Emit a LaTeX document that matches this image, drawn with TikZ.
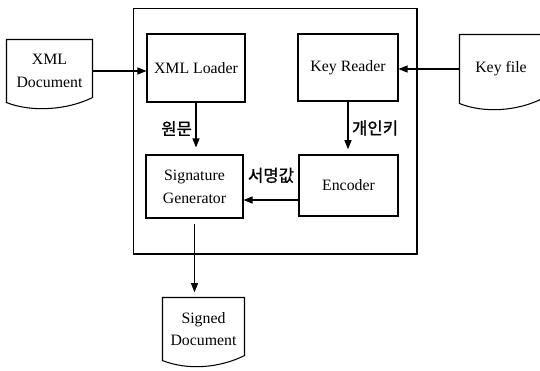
\documentclass[tikz,border=0pt]{standalone}
\usepackage{fontspec}
\setmainfont{Liberation Serif}
\newfontfamily\krfont{Noto Sans CJK KR}[FakeBold=1.2]
\usetikzlibrary{arrows.meta,calc}

\begin{document}
\begin{tikzpicture}[x=0.02cm,y=-0.02cm,font=\fontsize{9}{13}\selectfont,line width=0.6pt,
  blk/.style={draw,align=center,inner sep=2pt},
  docu/.style={align=center,inner sep=2pt,
    append after command={\pgfextra{\draw (\tikzlastnode.north west) -- (\tikzlastnode.north east)
      -- ([yshift=0.1cm]\tikzlastnode.south east)
      .. controls +(-0.5cm,-0.25cm) and +(0.5cm,-0.2cm) .. (\tikzlastnode.south west) -- cycle;}}},
  lbl/.style={font=\krfont\fontsize{9.5}{11}\selectfont,inner sep=2pt},
  ar/.style={-{Triangle[length=1.8mm,width=1.4mm]}}]
\useasboundingbox (0,0) rectangle (540,370);
% outer frame
\node[draw,minimum width=5.68cm,minimum height=4.92cm] (frame) at (275,131) {};
% inner blocks
\node[blk,minimum width=1.96cm,minimum height=1.36cm] (ldr) at (196,68) {XML Loader};
\node[blk,minimum width=2.0cm,minimum height=1.34cm] (keyrd) at (348,67.5) {Key Reader};
\node[blk,minimum width=1.94cm,minimum height=1.26cm] (siggen) at (194.5,186.5) {Signature\\Generator};
\node[blk,minimum width=1.98cm,minimum height=1.22cm] (enc) at (348.5,185.5) {Encoder};
% documents
\node[docu,minimum width=1.7cm,minimum height=1.24cm] (xmldoc) at (49.5,71) {XML\\Document};
\node[docu,minimum width=1.64cm,minimum height=1.36cm] (keyfile) at (501,69) {Key file};
\node[docu,minimum width=1.62cm,minimum height=1.24cm] (signed) at (203.5,329) {Signed\\Document};
% connectors
\draw[ar] (xmldoc.east) -- (xmldoc.east -| ldr.west);
\draw[ar] (keyfile.west) -- (keyfile.west -| keyrd.east);
\draw[ar,shorten >=4pt] (ldr.south) -- (ldr.south |- siggen.north) node[midway,left,lbl] (lbl1) {원문};
\draw[ar,shorten >=3pt] (keyrd.south) -- (keyrd.south |- enc.north) node[midway,right,lbl] (lbl2) {개인키};
\draw[ar] ([yshift=-0.29cm]enc.west) -- ([yshift=-0.29cm]enc.west -| siggen.east) node[midway,above=0.26cm,lbl] (lbl3) {서명값};
\draw[ar,shorten <=3pt,shorten >=3pt] (siggen.south) -- (siggen.south |- signed.north);
\end{tikzpicture}
\end{document}
